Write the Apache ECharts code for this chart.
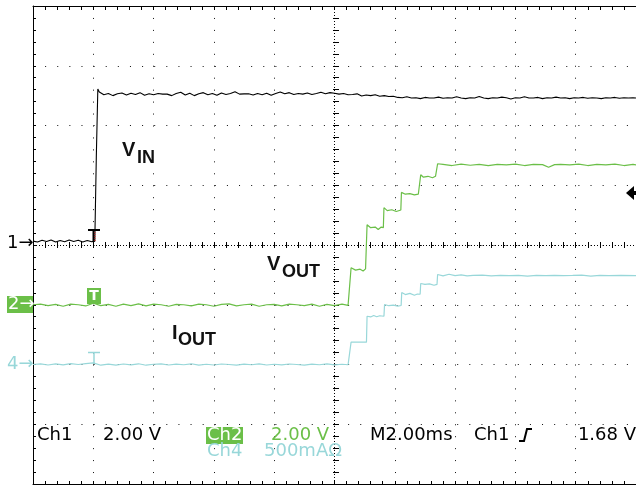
<!DOCTYPE html>
<html>
<head>
<meta charset="utf-8">
<script src="https://cdn.jsdelivr.net/npm/echarts@6/dist/echarts.min.js"></script>
<style>
  html, body { margin: 0; padding: 0; background: #fff; }
  #scope { width: 636px; height: 485px; }
</style>
</head>
<body>
<div id="scope"></div>
<script>
// scope capture: time in ms after trigger, ch1/ch2 in volts, ch4 in mA
var ch1Trace = [
  [-2.0,0.03],[-1.85,0.0],[-1.7,0.06],[-1.55,0.02],[-1.4,0.07],[-1.25,0.0],[-1.1,0.05],[-0.95,0.01],
  [-0.8,0.07],[-0.65,0.02],[-0.5,0.06],[-0.35,0.0],[-0.2,0.05],[-0.05,0.01],[0.05,0.03],[0.09,0.04],
  [0.1,2.85],[0.14,2.85],[0.15,5.12],
  [0.2,5.02],[0.35,4.93],[0.5,4.97],[0.65,4.9],[0.8,4.96],[0.95,4.99],[1.1,4.92],[1.25,4.98],
  [1.4,4.94],[1.55,5.0],[1.7,4.91],[1.85,4.96],[2.0,4.93],[2.15,4.97],[2.3,4.95],[2.45,4.95],
  [2.6,4.9],[2.75,4.97],[2.9,5.01],[3.05,4.92],[3.2,4.98],[3.35,4.9],[3.5,4.96],[3.65,5.0],
  [3.8,4.93],[3.95,4.97],[4.1,4.91],[4.25,4.99],[4.4,4.94],[4.55,4.97],[4.7,5.03],[4.85,4.95],
  [5.0,4.96],[5.15,4.96],[5.3,4.92],[5.45,4.97],[5.6,4.93],[5.75,4.98],[5.9,4.91],[6.05,4.97],
  [6.2,5.02],[6.35,4.96],[6.5,5.0],[6.65,4.94],[6.8,4.97],[6.95,4.95],[7.1,4.99],[7.25,4.94],
  [7.4,4.97],[7.55,5.01],[7.7,4.96],[7.85,5.0],[8.0,4.98],[8.15,4.95],[8.3,4.97],[8.45,4.93],
  [8.6,4.94],[8.75,4.96],[8.9,4.89],[9.05,4.92],[9.2,4.9],[9.35,4.93],[9.5,4.88],[9.65,4.9],
  [9.8,4.87],[9.95,4.88],[10.1,4.84],[10.25,4.83],[10.4,4.86],[10.55,4.82],[10.7,4.83],[10.85,4.8],
  [11.0,4.84],[11.15,4.82],[11.3,4.82],[11.45,4.85],[11.6,4.81],[11.75,4.83],[11.9,4.82],[12.05,4.86],
  [12.2,4.82],[12.35,4.8],[12.5,4.83],[12.65,4.82],[12.8,4.87],[12.95,4.82],[13.1,4.8],[13.25,4.83],
  [13.4,4.82],[13.55,4.85],[13.7,4.83],[13.85,4.79],[14.0,4.83],[14.15,4.82],[14.3,4.86],[14.45,4.82],
  [14.6,4.82],[14.75,4.84],[14.9,4.8],[15.05,4.83],[15.2,4.82],[15.35,4.85],[15.5,4.82],[15.65,4.83],
  [15.8,4.8],[15.95,4.83],[16.1,4.82],[16.25,4.84],[16.4,4.81],[16.55,4.83],[16.7,4.82],[16.85,4.8],
  [17.0,4.83],[17.15,4.82],[17.3,4.84],[17.45,4.81],[17.6,4.83],[17.75,4.82],[17.9,4.83],[18.0,4.82]
];
var ch2Trace = [
  [-2.0,0.0],[-1.75,0.02],[-1.5,-0.03],[-1.25,0.01],[-1.0,-0.05],[-0.75,0.02],[-0.5,0.0],[-0.25,-0.04],
  [0.0,0.05],[0.25,-0.03],[0.5,0.01],[0.75,-0.05],[1.0,0.02],[1.25,-0.03],[1.5,0.03],[1.75,-0.04],
  [2.0,0.02],[2.25,0.0],[2.5,-0.05],[2.75,0.01],[3.0,0.0],[3.25,-0.04],[3.5,0.02],[3.75,0.0],
  [4.0,-0.05],[4.25,0.01],[4.5,0.03],[4.75,-0.04],[5.0,0.0],[5.25,0.02],[5.5,-0.05],[5.75,0.0],
  [6.0,0.01],[6.25,-0.04],[6.5,0.02],[6.75,0.0],[7.0,-0.03],[7.25,0.02],[7.5,-0.05],[7.75,0.01],
  [8.0,-0.03],[8.25,0.02],[8.45,-0.02],[8.5,0.0],
  [8.55,1.24],[8.7,1.16],[8.85,1.19],[8.95,1.13],[9.03,1.2],[9.06,1.2],
  [9.08,2.68],[9.2,2.58],[9.35,2.6],[9.45,2.52],[9.55,2.6],[9.62,2.58],
  [9.64,3.25],[9.75,3.15],[9.9,3.18],[10.05,3.12],[10.2,3.17],
  [10.22,3.76],[10.35,3.7],[10.5,3.72],[10.65,3.68],[10.78,3.7],[10.84,3.73],
  [10.86,4.35],[10.95,4.27],[11.1,4.3],[11.25,4.25],[11.35,4.3],[11.4,4.3],
  [11.42,4.72],[11.6,4.7],[11.9,4.66],[12.2,4.71],[12.5,4.67],[12.8,4.7],[13.1,4.66],[13.4,4.7],
  [13.7,4.68],[14.0,4.71],[14.3,4.66],[14.6,4.7],[14.9,4.69],[15.1,4.6],[15.3,4.69],[15.5,4.7],
  [15.8,4.68],[16.1,4.71],[16.4,4.66],[16.7,4.7],[17.0,4.68],[17.3,4.71],[17.6,4.66],[17.9,4.7],[18.0,4.68]
];
var ch4Trace = [
  [-2.0,0],[-1.75,6],[-1.5,-4],[-1.25,5],[-1.0,-3],[-0.75,7],[-0.5,0],[-0.25,8],
  [0.0,14],[0.25,-6],[0.5,3],[0.75,-5],[1.0,4],[1.25,-3],[1.5,6],[1.75,-6],
  [2.0,2],[2.25,5],[2.5,-4],[2.75,3],[3.0,-2],[3.25,6],[3.5,-5],[3.75,2],
  [4.0,-4],[4.25,4],[4.5,0],[4.75,-5],[5.0,3],[5.25,-2],[5.5,5],[5.75,-4],
  [6.0,2],[6.25,-3],[6.5,4],[6.75,0],[7.0,-5],[7.25,3],[7.5,-2],[7.75,5],
  [8.0,-3],[8.25,2],[8.45,-2],[8.5,0],
  [8.55,187],[9.06,187],
  [9.08,404],[9.2,398],[9.3,410],[9.4,400],[9.5,408],[9.64,404],
  [9.66,502],[9.8,492],[9.95,497],[10.1,488],[10.21,494],
  [10.23,602],[10.35,585],[10.5,595],[10.65,580],[10.75,590],[10.84,588],
  [10.86,678],[11.0,670],[11.15,675],[11.3,663],[11.4,670],
  [11.42,753],[11.6,742],[11.8,755],[12.0,744],[12.2,750],[12.4,741],[12.6,745],[12.9,748],
  [13.2,742],[13.5,745],[13.8,744],[14.1,746],[14.4,740],[14.7,745],[15.0,744],[15.3,746],
  [15.6,744],[15.9,745],[16.2,748],[16.5,740],[16.8,745],[17.1,744],[17.5,745],[18.0,744]
];

// channel settings (vertical position in divisions, units per division)
var ch1Ground = 0.05, ch1PerDiv = 2;
var ch2Ground = -1.0, ch2PerDiv = 2;
var ch4Ground = -2.0, ch4PerDiv = 500;

var green = '#6bbf48';
var cyan = '#98d7d9';

function toDiv(trace, ground, perDiv) {
  return trace.map(function (p) { return [p[0], ground + p[1] / perDiv]; });
}

var chart = echarts.init(document.getElementById('scope'));

function xAx(extra) {
  var base = {
    type: 'value', min: -2, max: 18, interval: 0.4, position: 'bottom',
    axisLabel: { show: false },
    axisLine: { show: false, onZero: false },
    axisTick: { show: false },
    splitLine: { show: false }
  };
  return Object.assign(base, extra);
}
function yAx(extra) {
  var base = {
    type: 'value', min: -4, max: 4, interval: 0.2, position: 'left',
    axisLabel: { show: false },
    axisLine: { show: false, onZero: false },
    axisTick: { show: false },
    splitLine: { show: false }
  };
  return Object.assign(base, extra);
}

var tickStyle = { color: '#000', width: 1 };
var txt = function (text, x, y, color, font, align) {
  return { type: 'text', z: 10, style: { text: text, x: x, y: y, fill: color, font: font,
    textAlign: align || 'left', textVerticalAlign: 'middle' } };
};
var f18 = '18px "DejaVu Sans"';

chart.setOption({
  backgroundColor: '#fff',
  animation: false,
  grid: { left: 33, top: 6, width: 606, height: 478, show: false },
  xAxis: [
    xAx({ interval: 2, axisLine: { show: true, onZero: false, lineStyle: { color: '#000' } },
      splitLine: { show: true, lineStyle: { color: '#111', width: 1, type: [1, 10.95] } } }),
    xAx({ axisTick: { show: true, inside: true, length: 3, lineStyle: tickStyle } }),
    xAx({ position: 'top', axisLine: { show: true, onZero: false, lineStyle: { color: '#000' } },
      axisTick: { show: true, inside: true, length: 4, lineStyle: tickStyle } }),
    // centre graticule: dense dotted line through the middle, ticks on both sides
    xAx({ interval: 10, splitLine: { show: true, lineStyle: { color: '#000', width: 1, type: [1, 2] } } }),
    xAx({ offset: -239, axisTick: { show: true, inside: true, length: 3, lineStyle: tickStyle } }),
    xAx({ offset: -239, axisTick: { show: true, inside: false, length: 3, lineStyle: tickStyle } })
  ],
  yAxis: [
    yAx({ interval: 1, axisLine: { show: true, onZero: false, lineStyle: { color: '#000' } },
      splitLine: { show: true, lineStyle: { color: '#111', width: 1, type: [1, 11.12] } } }),
    yAx({ axisTick: { show: true, inside: true, length: 3, lineStyle: tickStyle } }),
    yAx({ interval: 4, splitLine: { show: true, lineStyle: { color: '#000', width: 1, type: [1, 2] } } }),
    yAx({ offset: -303, axisTick: { show: true, inside: true, length: 3, lineStyle: tickStyle } }),
    yAx({ offset: -303, axisTick: { show: true, inside: false, length: 3, lineStyle: tickStyle } })
  ],
  series: [
    { name: 'Ch4', type: 'line', showSymbol: false, data: toDiv(ch4Trace, ch4Ground, ch4PerDiv),
      lineStyle: { color: cyan, width: 1.2 }, z: 3 },
    { name: 'Ch2', type: 'line', showSymbol: false, data: toDiv(ch2Trace, ch2Ground, ch2PerDiv),
      lineStyle: { color: green, width: 1.2 }, z: 3 },
    { name: 'Ch1', type: 'line', showSymbol: false, data: toDiv(ch1Trace, ch1Ground, ch1PerDiv),
      lineStyle: { color: '#000', width: 1.1 }, z: 4 }
  ],
  graphic: { elements: [
    // label backgrounds hide the graticule dots
    { type: 'rect', z: 1, shape: { x: 116, y: 134, width: 44, height: 36 }, style: { fill: '#fff' } },
    { type: 'rect', z: 1, shape: { x: 262, y: 250, width: 63, height: 31 }, style: { fill: '#fff' } },
    { type: 'rect', z: 1, shape: { x: 167, y: 321, width: 54, height: 30 }, style: { fill: '#fff' } },
    txt('V', 122, 150, '#111', 'bold 20px "Liberation Sans"'),
    txt('IN', 137, 158, '#111', 'bold 18px "Liberation Sans"'),
    txt('V', 267, 264, '#111', 'bold 20px "Liberation Sans"'),
    txt('OUT', 282, 272, '#111', 'bold 18px "Liberation Sans"'),
    txt('I', 172, 333, '#111', 'bold 20px "Liberation Sans"'),
    txt('OUT', 178, 340, '#111', 'bold 18px "Liberation Sans"'),

    // channel ground markers
    txt('1\u2192', 7, 243, '#000', f18),
    { type: 'rect', z: 10, shape: { x: 7, y: 296, width: 26, height: 17 }, style: { fill: green } },
    txt('2\u2192', 8, 304, '#fff', f18),
    txt('4\u2192', 7, 364, cyan, f18),

    // trigger position markers
    { type: 'polyline', z: 10, shape: { points: [[88, 230], [100, 230]] }, style: { stroke: '#000', lineWidth: 2 } },
    { type: 'polyline', z: 10, shape: { points: [[93.5, 230], [93.5, 242]] }, style: { stroke: '#000', lineWidth: 2 } },
    { type: 'polyline', z: 11, shape: { points: [[95, 232], [95, 241]] }, style: { stroke: '#d22', lineWidth: 1, lineDash: [1, 1] } },
    { type: 'rect', z: 10, shape: { x: 87, y: 288, width: 14, height: 16 }, style: { fill: green } },
    txt('T', 94, 296, '#fff', 'bold 14px "DejaVu Sans"', 'center'),
    { type: 'polyline', z: 10, shape: { points: [[88, 352.5], [100, 352.5]] }, style: { stroke: cyan, lineWidth: 1.5 } },
    { type: 'polyline', z: 10, shape: { points: [[94, 352], [94, 364]] }, style: { stroke: cyan, lineWidth: 1.5 } },

    // trigger level marker
    { type: 'polygon', z: 10, shape: { points: [[626, 193], [634, 186], [634, 200]] }, style: { fill: '#000' } },
    { type: 'rect', z: 10, shape: { x: 633, y: 191, width: 4, height: 4 }, style: { fill: '#000' } },

    // readout
    txt('Ch1', 37, 435, '#000', f18),
    txt('2.00 V', 103, 435, '#000', f18),
    { type: 'rect', z: 10, shape: { x: 206, y: 427, width: 37, height: 17 }, style: { fill: green } },
    txt('Ch2', 207, 435, '#fff', f18),
    txt('2.00 V', 271, 435, green, f18),
    txt('Ch4', 207, 451, cyan, f18),
    txt('500mA\u03A9', 264, 451, cyan, f18),
    txt('M2.00ms', 370, 435, '#000', f18),
    txt('Ch1', 474, 435, '#000', f18),
    { type: 'polyline', z: 10, shape: { points: [[519, 441], [524, 441], [527, 429], [532, 429]] },
      style: { stroke: '#000', lineWidth: 2 } },
    txt('1.68 V', 636, 435, '#000', f18, 'right')
  ] }
});
</script>
</body>
</html>
